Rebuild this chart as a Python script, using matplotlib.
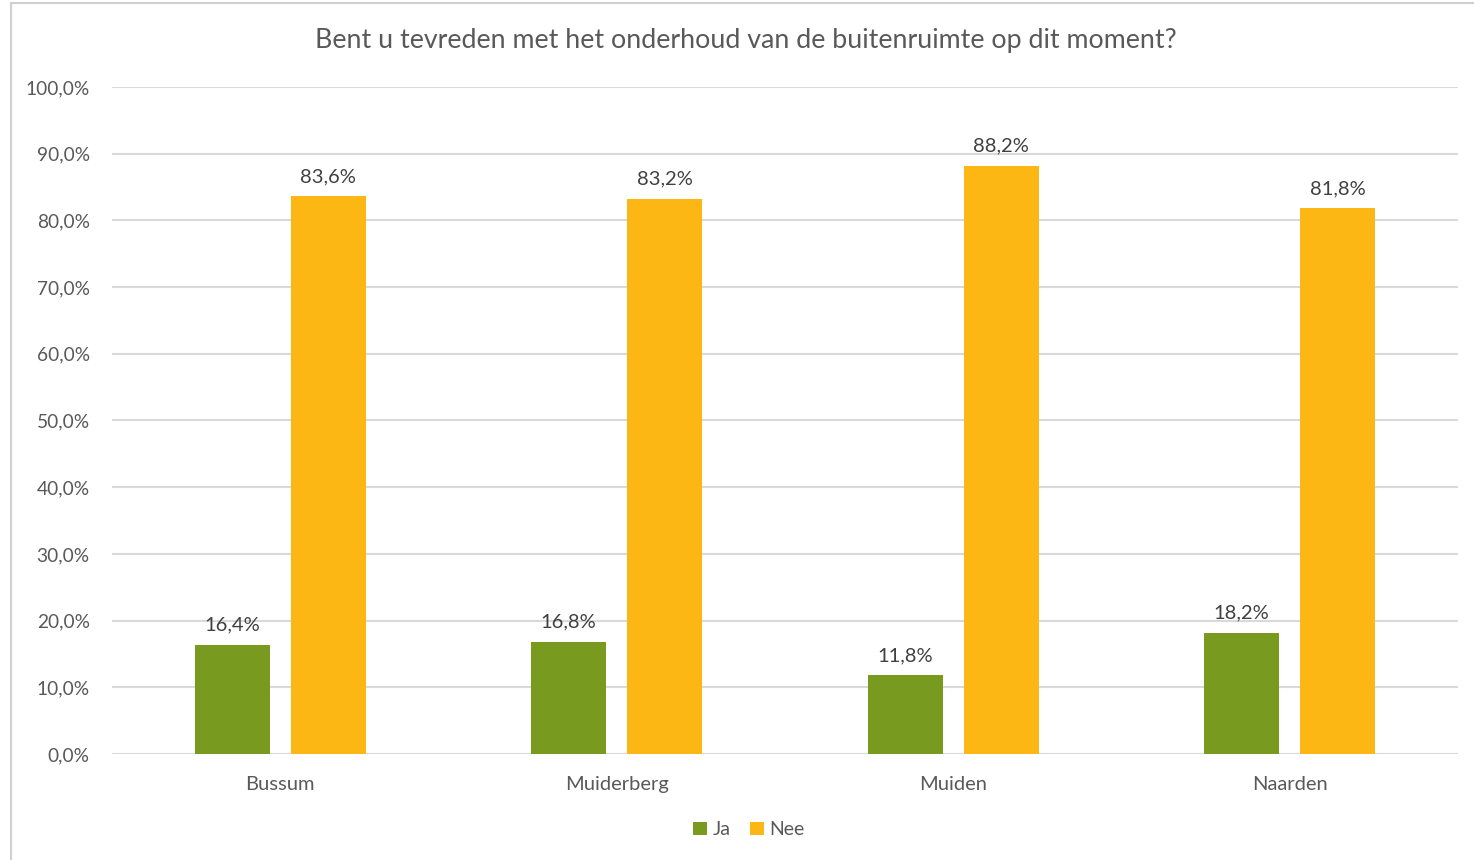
import numpy as np
import matplotlib.pyplot as plt
from matplotlib.patches import Rectangle

plt.rcParams['font.family'] = ['Lato', 'DejaVu Sans']

categories = ["Bussum", "Muiderberg", "Muiden", "Naarden"]
ja = [16.4, 16.8, 11.8, 18.2]
nee = [83.6, 83.2, 88.2, 81.8]
yticks = [0, 10, 20, 30, 40, 50, 60, 70, 80, 90, 100]

green = "#789A1E"
orange = "#FDB714"
textc = "#595959"

fig = plt.figure(figsize=(14.74, 8.6), dpi=100)
ax = fig.add_axes([0.076, 0.1233, 0.913, 0.7755])

# outer chart frame
fig.patches.append(Rectangle((11 / 1474, -0.01), 1.0, 1.0 - 3 / 860 + 0.01,
                             transform=fig.transFigure, fill=False,
                             edgecolor="#d0d0d0", linewidth=1.5))

x = np.arange(len(categories))
w = 0.223
off = 0.143
b1 = ax.bar(x - off, ja, w, color=green, label="Ja", zorder=3)
b2 = ax.bar(x + off, nee, w, color=orange, label="Nee", zorder=3)

for bars, vals in ((b1, ja), (b2, nee)):
    for b, v in zip(bars, vals):
        ax.text(b.get_x() + b.get_width() / 2, v + 1.7,
                ("%.1f%%" % v).replace(".", ","), ha="center", va="bottom",
                fontsize=14.5, color="#404040")

ax.set_xlim(-0.5, 3.5)
ax.set_ylim(0, 100)
ax.set_yticks(yticks)
ax.set_yticklabels([("%.1f%%" % t).replace(".", ",") for t in yticks],
                   fontsize=13.8, color=textc)
ax.set_xticks(x)
ax.set_xticklabels(categories, fontsize=14.5, color=textc)
ax.tick_params(axis="y", length=0, pad=16)
ax.tick_params(axis="x", length=0, pad=16)
ax.grid(axis="y", color="#d9d9d9", linewidth=1.5, zorder=0)
for s in ax.spines.values():
    s.set_visible(False)

fig.text(0.506, 0.953, "Bent u tevreden met het onderhoud van de buitenruimte op dit moment?",
         ha="center", va="center", fontsize=19.3, color=textc)

fig.legend(handles=[b1, b2], labels=["Ja", "Nee"], loc="center",
           bbox_to_anchor=(0.508, 0.035), ncol=2, frameon=False, fontsize=14,
           handlelength=0.7, handleheight=0.7, handletextpad=0.3,
           columnspacing=1.0, labelcolor=textc)

fig.savefig("out.png", dpi=100)
